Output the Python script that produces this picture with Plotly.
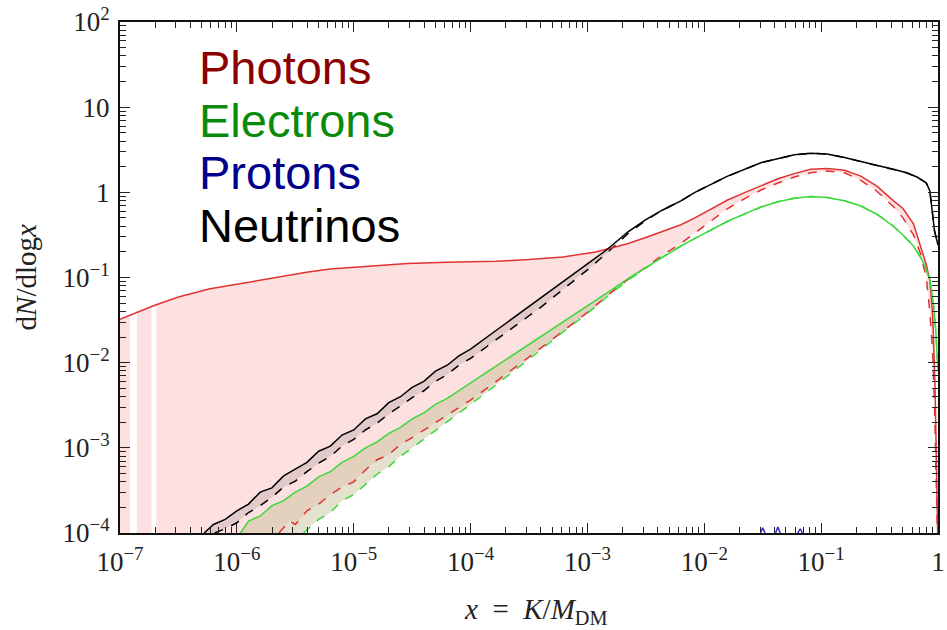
import numpy as np
import plotly.graph_objects as go

# ---- spectra, stored as (log10 x, log10 dN/dlogx) ----
photon_lx = [-7.00, -6.915, -6.856, -6.73, -6.69, -6.50, -6.24, -6.00, -5.81, -5.60,
             -5.39, -5.20, -4.96, -4.75, -4.54, -4.20, -3.78, -3.50, -3.21, -2.93,
             -2.84, -2.65, -2.50, -2.36, -2.20, -2.08, -1.94, -1.80, -1.65, -1.51,
             -1.37, -1.23, -1.09, -0.95, -0.80, -0.66, -0.52, -0.38, -0.30, -0.21,
             -0.155, -0.10, -0.07, -0.045, -0.025, -0.01, -0.003]
photon_ly = [-1.49, -1.44, -1.41, -1.34, -1.32, -1.23, -1.135, -1.08, -1.03, -0.98,
             -0.935, -0.90, -0.877, -0.85, -0.835, -0.82, -0.81, -0.79, -0.76, -0.70,
             -0.67, -0.60, -0.53, -0.46, -0.38, -0.30, -0.19, -0.09, 0.00, 0.08,
             0.16, 0.22, 0.27, 0.28, 0.26, 0.19, 0.07, -0.10, -0.19, -0.37,
             -0.60, -0.85, -1.03, -1.45, -2.30, -3.50, -4.00]

photon_alt_lx = [-5.64, -5.55, -5.50, -5.40, -5.30, -5.20, -5.10, -5.00, -4.90, -4.80,
                 -4.70, -4.60, -4.50, -4.40, -4.20, -4.00, -3.80, -3.60, -3.40, -3.20,
                 -3.00, -2.80, -2.65, -2.50, -2.36, -2.20, -2.08, -1.94, -1.80, -1.65,
                 -1.51, -1.37, -1.23, -1.09, -0.95, -0.80, -0.66, -0.52, -0.38, -0.30,
                 -0.21, -0.15, -0.10, -0.07, -0.045, -0.03, -0.015, -0.005]
photon_alt_ly = [-4.00, -3.86, -3.90, -3.74, -3.66, -3.55, -3.46, -3.40, -3.26, -3.14,
                 -3.08, -2.96, -2.88, -2.79, -2.62, -2.44, -2.24, -2.04, -1.83, -1.62,
                 -1.41, -1.18, -1.02, -0.88, -0.74, -0.60, -0.48, -0.33, -0.19, -0.07,
                 0.03, 0.11, 0.18, 0.23, 0.25, 0.23, 0.14, 0.01, -0.17, -0.30,
                 -0.50, -0.72, -1.00, -1.40, -1.90, -2.50, -3.40, -4.00]

electron_lx = [-5.97, -5.90, -5.80, -5.70, -5.60, -5.50, -5.40, -5.30, -5.20, -5.10,
               -5.00, -4.90, -4.80, -4.70, -4.60, -4.50, -4.40, -4.30, -4.20, -4.00,
               -3.80, -3.60, -3.40, -3.20, -3.00, -2.80, -2.65, -2.50, -2.36, -2.20,
               -2.08, -1.94, -1.80, -1.65, -1.51, -1.37, -1.23, -1.09, -0.95, -0.80,
               -0.66, -0.52, -0.38, -0.30, -0.21, -0.15, -0.10, -0.07, -0.04, -0.02, 0.00]
electron_ly = [-4.00, -3.86, -3.80, -3.68, -3.62, -3.52, -3.45, -3.34, -3.28, -3.17,
               -3.10, -3.00, -2.93, -2.83, -2.76, -2.66, -2.59, -2.49, -2.42, -2.24,
               -2.06, -1.88, -1.70, -1.52, -1.33, -1.15, -1.01, -0.88, -0.76, -0.63,
               -0.54, -0.44, -0.34, -0.25, -0.17, -0.11, -0.07, -0.05, -0.06, -0.10,
               -0.16, -0.26, -0.40, -0.50, -0.63, -0.76, -0.90, -1.03, -1.30, -1.60, -2.10]

electron_alt_lx = [-5.43, -5.30, -5.20, -5.10, -5.00, -4.90, -4.80, -4.70, -4.60, -4.50,
                   -4.40, -4.20, -4.00, -3.80, -3.60, -3.40, -3.20, -3.00, -2.80, -2.65,
                   -2.50, -2.36, -2.20, -2.08, -1.94, -1.80, -1.65, -1.51, -1.37, -1.23,
                   -1.09, -0.95, -0.80, -0.66, -0.52, -0.38, -0.30, -0.21, -0.15, -0.10,
                   -0.07, -0.04, -0.02, 0.00]
electron_alt_ly = [-4.00, -3.84, -3.76, -3.62, -3.55, -3.43, -3.31, -3.22, -3.10, -3.00,
                   -2.90, -2.70, -2.49, -2.28, -2.07, -1.85, -1.63, -1.42, -1.19, -1.03,
                   -0.89, -0.76, -0.63, -0.54, -0.44, -0.34, -0.25, -0.17, -0.11, -0.07,
                   -0.05, -0.06, -0.10, -0.16, -0.26, -0.40, -0.50, -0.63, -0.76, -0.90,
                   -1.03, -1.30, -1.60, -2.10]

neutrino_lx = [-6.28, -6.20, -6.10, -6.00, -5.90, -5.80, -5.70, -5.60, -5.50, -5.40,
               -5.30, -5.20, -5.10, -5.00, -4.90, -4.80, -4.70, -4.60, -4.50, -4.40,
               -4.30, -4.20, -4.10, -4.00, -3.80, -3.60, -3.40, -3.20, -3.00, -2.84,
               -2.65, -2.50, -2.36, -2.20, -2.08, -1.80, -1.51, -1.23, -1.09, -0.95,
               -0.80, -0.66, -0.50, -0.38, -0.27, -0.18, -0.10, -0.07, -0.05, -0.03, 0.00]
neutrino_ly = [-4.00, -3.90, -3.84, -3.74, -3.66, -3.52, -3.47, -3.33, -3.25, -3.17,
               -3.04, -2.98, -2.85, -2.79, -2.66, -2.60, -2.47, -2.40, -2.29, -2.22,
               -2.10, -2.03, -1.92, -1.84, -1.64, -1.44, -1.25, -1.04, -0.85, -0.68,
               -0.46, -0.32, -0.21, -0.10, 0.00, 0.19, 0.35, 0.44, 0.46, 0.45,
               0.41, 0.36, 0.31, 0.27, 0.23, 0.18, 0.11, 0.02, -0.25, -0.45, -0.62]

neutrino_alt_lx = [-6.19, -6.10, -6.00, -5.90, -5.80, -5.70, -5.60, -5.50, -5.40, -5.30,
                   -5.20, -5.10, -5.00, -4.90, -4.80, -4.70, -4.60, -4.50, -4.40, -4.30,
                   -4.20, -4.10, -4.00, -3.80, -3.60, -3.40, -3.20, -3.00, -2.84, -2.65,
                   -2.50, -2.36, -2.20, -2.08, -1.80, -1.51, -1.23, -1.09, -0.95, -0.80,
                   -0.66, -0.50, -0.38, -0.27, -0.18, -0.10, -0.07, -0.05, -0.03, 0.00]
neutrino_alt_ly = [-4.00, -3.95, -3.88, -3.76, -3.68, -3.58, -3.46, -3.39, -3.28, -3.18,
                   -3.10, -2.98, -2.90, -2.79, -2.71, -2.60, -2.51, -2.41, -2.33, -2.22,
                   -2.14, -2.03, -1.95, -1.75, -1.55, -1.35, -1.13, -0.91, -0.72, -0.48,
                   -0.33, -0.21, -0.10, 0.00, 0.19, 0.35, 0.44, 0.46, 0.45, 0.41,
                   0.36, 0.31, 0.27, 0.23, 0.18, 0.11, 0.02, -0.25, -0.45, -0.62]

# proton yield only pokes above the floor in a few bins
proton_lx = [-1.52, -1.50, -1.48, None, -1.39, -1.37, -1.35, None, -1.20, -1.18, -1.16]
proton_ly = [-4.00, -3.94, -4.00, None, -4.00, -3.93, -4.00, None, -4.00, -3.95, -4.00]

# empty bins of the photon band (log10 x intervals)
photon_band_gaps = [(-6.915, -6.856), (-6.73, -6.69)]

x_ticks = [-7, -6, -5, -4, -3, -2, -1, 0]
x_ticktext = ["10<sup>−7</sup>", "10<sup>−6</sup>", "10<sup>−5</sup>", "10<sup>−4</sup>",
              "10<sup>−3</sup>", "10<sup>−2</sup>", "10<sup>−1</sup>", "1"]
y_ticks = [-4, -3, -2, -1, 0, 1, 2]
y_ticktext = ["10<sup>−4</sup>", "10<sup>−3</sup>", "10<sup>−2</sup>", "10<sup>−1</sup>",
              "1", "10", "10<sup>2</sup>"]

labels = ["Photons", "Electrons", "Protons", "Neutrinos"]
label_colors = ["#8b0000", "#0a8a0a", "#00008b", "#000000"]

X_MIN, X_MAX = -7, 0
Y_MIN, Y_MAX = -4, 2
FLOOR = 10.0 ** Y_MIN

RED, GREEN, BLUE, BLACK = "#e03232", "#3cd83c", "#2a2ad8", "#000000"


def p10(v):
    return [None if a is None else 10.0 ** a for a in v]


def band(lx_hi, ly_hi, lx_lo, ly_lo):
    """Closed outline between an upper and a lower curve."""
    xs = list(lx_hi) + list(lx_lo)[::-1]
    ys = list(ly_hi) + list(ly_lo)[::-1]
    return p10(xs), p10(ys)


fig = go.Figure()

# photon band: total vs. alternative, bounded by the axis floor, split at empty bins
edges = [X_MIN] + [e for g in photon_band_gaps for e in g] + [None]
segments = [(edges[i], edges[i + 1]) for i in range(0, len(edges), 2)]
px_all, py_all = [], []
for k, (a, b) in enumerate(segments):
    idx = [i for i, v in enumerate(photon_lx) if v >= a and (b is None or v <= b)]
    sx = [photon_lx[i] for i in idx]
    sy = [photon_ly[i] for i in idx]
    if b is None:
        bx, by = band(sx, sy, photon_alt_lx, photon_alt_ly)
        bx += [10.0 ** sx[0]]
        by += [FLOOR]
    else:
        bx = p10(sx + [sx[-1], sx[0]])
        by = p10(sy) + [FLOOR, FLOOR]
    if k == 0:
        bx, by = [10.0 ** sx[0]] + bx, [FLOOR] + by
    px_all += bx + [None]
    py_all += by + [None]
fig.add_trace(go.Scatter(x=px_all[:-1], y=py_all[:-1], mode="lines", fill="toself",
                         fillcolor="#fde1e1", line=dict(width=0), hoverinfo="skip"))

bx, by = band(electron_lx, electron_ly, electron_alt_lx, electron_alt_ly)
fig.add_trace(go.Scatter(x=bx, y=by, mode="lines", fill="toself",
                         fillcolor="rgba(190,186,140,0.42)", line=dict(width=0), hoverinfo="skip"))

bx, by = band(neutrino_lx, neutrino_ly, neutrino_alt_lx, neutrino_alt_ly)
fig.add_trace(go.Scatter(x=bx, y=by, mode="lines", fill="toself",
                         fillcolor="rgba(0,0,0,0.10)", line=dict(width=0), hoverinfo="skip"))

# curves
curves = [
    (photon_alt_lx, photon_alt_ly, RED, "dash"),
    (electron_alt_lx, electron_alt_ly, GREEN, "dash"),
    (neutrino_alt_lx, neutrino_alt_ly, BLACK, "dash"),
    (photon_lx, photon_ly, RED, "solid"),
    (electron_lx, electron_ly, GREEN, "solid"),
    (neutrino_lx, neutrino_ly, BLACK, "solid"),
]
for lx, ly, col, dash in curves:
    fig.add_trace(go.Scatter(x=p10(lx), y=p10(ly), mode="lines",
                             line=dict(color=col, width=1.5, dash=dash)))

fig.add_trace(go.Scatter(x=p10(proton_lx), y=p10(proton_ly), mode="lines",
                         line=dict(color=BLUE, width=1.5), connectgaps=False))

# species labels
for i, (txt, col) in enumerate(zip(labels, label_colors)):
    fig.add_annotation(text=txt, xref="paper", yref="paper", x=0.094, y=0.91 - i * 0.1027,
                       xanchor="left", yanchor="middle", showarrow=False,
                       font=dict(family="Liberation Sans, Arial", size=47, color=col))

serif = "Liberation Serif, Times New Roman, serif"
fig.add_annotation(text="<i>x</i>&nbsp; = &nbsp;<i>K</i>/<i>M</i><sub>DM</sub>",
                   xref="paper", yref="paper",
                   x=0.5085, y=-0.152, xanchor="center", yanchor="middle", showarrow=False,
                   font=dict(family=serif, size=29, color="#222"))
fig.add_annotation(text="d<i>N</i>/dlog<i>x</i>", xref="paper", yref="paper",
                   x=-0.115, y=0.5, xanchor="center", yanchor="middle", showarrow=False,
                   textangle=-90, font=dict(family=serif, size=29, color="#222"))

minor_x = [10.0 ** d * k for d in range(X_MIN, X_MAX) for k in range(2, 10)]
minor_y = [10.0 ** d * k for d in range(Y_MIN, Y_MAX) for k in range(2, 10)]

axis_common = dict(type="log", showgrid=False, zeroline=False, showline=True,
                   linecolor="#111", linewidth=2, ticks="inside", ticklen=10,
                   tickwidth=1.3, tickcolor="#222", mirror="allticks",
                   tickfont=dict(family=serif, size=27, color="#222"),
                   tickmode="array", ticklabeloverflow="allow")

fig.update_layout(
    width=947, height=630,
    margin=dict(l=120, r=2, t=22, b=97),
    paper_bgcolor="white", plot_bgcolor="white",
    showlegend=False,
    xaxis=dict(axis_common, range=[X_MIN, X_MAX], tickvals=p10(x_ticks), ticktext=x_ticktext,
               ticklabelstandoff=4,
               minor=dict(ticks="inside", ticklen=6, tickwidth=1.2, tickcolor="#222",
                          tickmode="array", tickvals=minor_x, showgrid=False)),
    yaxis=dict(axis_common, range=[Y_MIN, Y_MAX], tickvals=p10(y_ticks), ticktext=y_ticktext,
               ticklabelstandoff=3,
               minor=dict(ticks="inside", ticklen=6, tickwidth=1.2, tickcolor="#222",
                          tickmode="array", tickvals=minor_y, showgrid=False)),
)

fig.write_html("out.html")
